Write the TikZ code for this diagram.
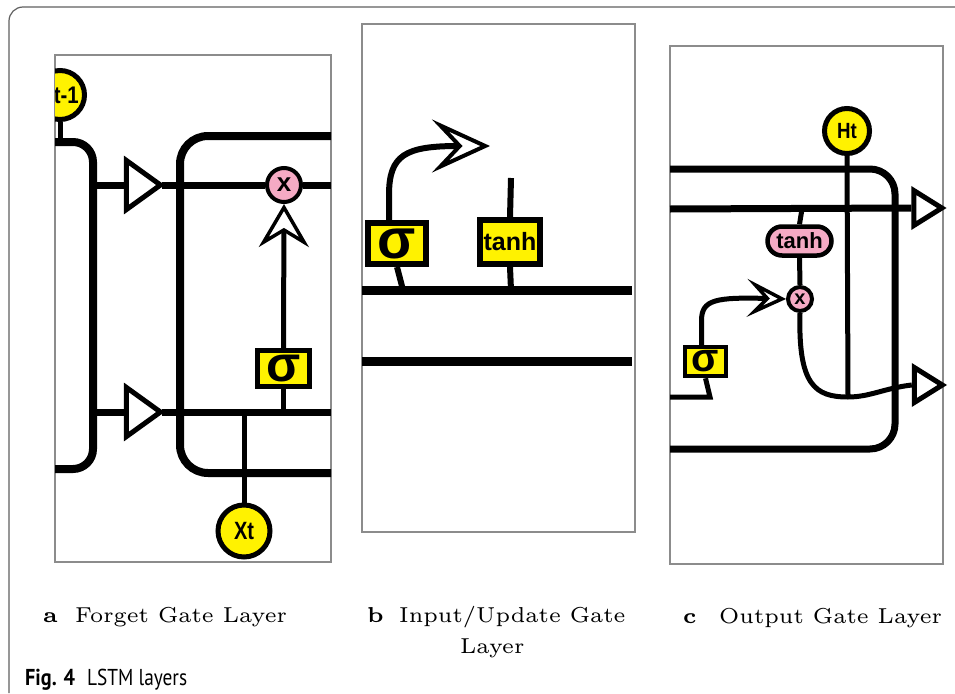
\documentclass[tikz,border=0pt]{standalone}
\usepackage{fontspec}
\usepackage{tikz}
\usetikzlibrary{arrows.meta,shapes,calc}
\newfontfamily\lblfont{Liberation Sans}
\newfontfamily\figfont{PT Sans}
\definecolor{gateyellow}{RGB}{255,242,0}
\definecolor{gatepink}{RGB}{245,170,196}
\definecolor{panelgray}{RGB}{140,140,140}
\definecolor{framegray}{RGB}{95,95,95}
\newcommand{\condtext}[2]{\scalebox{#1}[1]{#2}}
\newcommand{\captxt}[1]{\scalebox{3.6}{\fontsize{6}{7}\selectfont #1}}
\tikzset{
	panel/.style={draw=panelgray,line width=1.5pt},
	cellline/.style={line width=8pt},
	thinline/.style={line width=5pt},
	yellowcirc/.style={circle,draw,line width=5pt,fill=gateyellow,inner sep=0pt},
	pinkcirc/.style={circle,draw,line width=4pt,fill=gatepink,inner sep=0pt},
	sigbox/.style={rectangle,draw,line width=5pt,fill=gateyellow,inner sep=0pt},
	gatetri/.style={isosceles triangle,isosceles triangle stretches,draw,line width=5pt,fill=white,inner sep=0pt},
	captext/.style={anchor=base west,inner sep=0pt},
}

\begin{document}
\begin{tikzpicture}[x=1pt,y=-1pt]
	\useasboundingbox (0,0) rectangle (955,693);
	\draw[framegray,line width=1.2pt,rounded corners=14pt] (9,693) -- (9,7) -- (955,7);
	
	% a: forget gate layer
	\draw[panel] (55,55) rectangle (331,562);
	\begin{scope}
	\clip (55,55) rectangle (331,562);
	\coordinate (a1) at (55,142);
	\coordinate (a2) at (93,142);
	\coordinate (a3) at (93,469);
	\coordinate (a4) at (55,469);
	\coordinate (a5) at (331,136);
	\coordinate (a6) at (180,136);
	\coordinate (a7) at (180,473);
	\coordinate (a8) at (331,473);
	\coordinate (a9) at (93,185);
	\coordinate (a10) at (331,185);
	\coordinate (a11) at (93,412);
	\coordinate (a12) at (331,412);
	\node[yellowcirc,minimum size=49pt,font=\lblfont\bfseries\fontsize{24}{24}\selectfont] (hprev) at (60,95) {\condtext{0.85}{ht-1}};
	\node[pinkcirc,minimum size=34pt,font=\lblfont\bfseries\fontsize{26}{26}\selectfont] (mula) at (284,185) {x};
	\node[sigbox,minimum width=52pt,minimum height=36pt,font=\lblfont\bfseries\fontsize{50}{50}\selectfont] (siga) at (283.5,368.5) {σ};
	\node[yellowcirc,minimum size=52pt,font=\lblfont\bfseries\fontsize{25}{25}\selectfont] (xa) at (244,531) {\condtext{0.8}{Xt}};
	\node[gatetri,minimum height=34pt,minimum width=49pt] (tria) at (139,185) {};
	\node[gatetri,minimum height=34pt,minimum width=49pt] (trib) at (139,412) {};
	\draw[cellline,rounded corners=20pt] (a1) -- (a2) -- (a3) -- (a4);
	\draw[cellline,rounded corners=28pt] (a5) -- (a6) -- (a7) -- (a8);
	\draw[thinline] (hprev.south) -- (hprev.south |- a1);
	\draw[line width=7pt] (a9) -- (tria.west);
	\draw[line width=7pt] ([xshift=-5pt]tria.apex) -- (mula);
	\draw[line width=7pt] (mula) -- (a10);
	\draw[line width=7pt] (a11) -- (trib.west);
	\draw[line width=7pt] ([xshift=-5pt]trib.apex) -- (a12);
	\draw[thinline] (siga.south) -- (siga.south |- a12);
	\draw[thinline,-{Stealth[open,fill=white,line width=3.5pt,length=43pt,width=50pt,inset=15pt]}] (siga.north) -- (mula.south);
	\draw[thinline] (xa.north) -- (xa.north |- a12);
	\end{scope}
	
	% b: input/update gate layer
	\draw[panel] (362,24) rectangle (635,532);
	\coordinate (b1) at (362,290);
	\coordinate (b2) at (632,290);
	\coordinate (b3) at (362,361);
	\coordinate (b4) at (632,361);
	\coordinate (b5) at (403,290);
	\coordinate (b6) at (511,178);
	\coordinate (b7) at (511,290);
	\coordinate (b8) at (490,146);
	\node[sigbox,line width=6pt,minimum width=58pt,minimum height=41pt,font=\lblfont\bfseries\fontsize{56}{56}\selectfont] (sigb) at (397,243.5) {σ};
	\node[sigbox,line width=6pt,minimum width=60pt,minimum height=44pt,font=\lblfont\bfseries\fontsize{25}{25}\selectfont] (tanb) at (510,242) {tanh};
	\draw[line width=9pt] (b1) -- (b2);
	\draw[line width=9pt] (b3) -- (b4);
	\draw[line width=6pt] (sigb.south) -- (b5);
	\draw[line width=6pt] (tanb.north) -- (b6);
	\draw[line width=6pt] (tanb.south) -- (b7);
	\draw[line width=6pt,-{Stealth[open,fill=white,line width=4pt,length=58pt,width=53pt,inset=25pt]}] ([xshift=-8pt]sigb.north) -- ++(0,-25) .. controls (389,155) and (405,146) .. (b8);
	
	% c: output gate layer
	\draw[panel] (670,46) rectangle (943,564);
	\coordinate (c1) at (670,169);
	\coordinate (c2) at (895,169);
	\coordinate (c3) at (895,449);
	\coordinate (c4) at (670,449);
	\coordinate (c5) at (670,209);
	\coordinate (c6) at (802,209);
	\coordinate (c7) at (848,397);
	\coordinate (c8) at (710,397);
	\coordinate (c9) at (670,397);
	\node[yellowcirc,minimum size=45pt,font=\lblfont\bfseries\fontsize{22}{22}\selectfont] (ht) at (847,131) {\condtext{0.85}{Ht}};
	\node[rounded rectangle,draw,line width=4.5pt,fill=gatepink,inner sep=0pt,minimum width=64pt,minimum height=29pt,font=\lblfont\bfseries\fontsize{22}{22}\selectfont] (tanc) at (799.5,241) {tanh};
	\node[pinkcirc,minimum size=24pt,font=\lblfont\bfseries\fontsize{20}{20}\selectfont] (mulc) at (800,299) {x};
	\node[sigbox,line width=4.5pt,minimum width=41pt,minimum height=29pt,font=\lblfont\bfseries\fontsize{40}{40}\selectfont] (sigc) at (705.5,361.5) {σ};
	\node[gatetri,minimum height=28pt,minimum width=35pt] (tric) at (923.5,208) {};
	\node[gatetri,minimum height=28pt,minimum width=35pt] (trid) at (924,385) {};
	\draw[line width=7pt,rounded corners=25pt] (c1) -- (c2) -- (c3) -- (c4);
	\draw[line width=7pt] (c5) -- (tric.west);
	\draw[thinline] (ht.south) -- (c7);
	\draw[thinline] (tanc.north) -- (c6);
	\draw[thinline] (tanc.south) -- (mulc.north);
	\draw[thinline] (mulc.south) .. controls (798,385) and (815,397) .. (c7) .. controls (870,397) and (885,388) .. (trid.west);
	\draw[thinline] (sigc.south) -- (c8) -- (c9);
	\draw[thinline,-{Stealth[open,fill=white,line width=3.5pt,length=39pt,width=38pt,inset=18pt]}] ([xshift=-4pt]sigc.north) -- ++(0,-25) .. controls (702,300) and (715,297) .. (mulc.west);
	
	% captions
	\node[captext] (capa) at (43,622) {\captxt{\bfseries a}};
	\node[captext] (capatext) at (75,622) {\captxt{Forget Gate Layer}};
	\node[captext] (capb) at (367,622) {\captxt{\bfseries b}};
	\node[captext] (capbtext) at (399,622) {\captxt{Input/Update Gate}};
	\node[captext] (capbtext2) at (460,653) {\captxt{Layer}};
	\node[captext] (capc) at (683,623) {\captxt{\bfseries c}};
	\node[captext] (capctext) at (719,623) {\captxt{Output Gate Layer}};
	\node[anchor=base west,inner sep=0pt,font=\figfont\bfseries\fontsize{23}{23}\selectfont] (fig) at (25,685) {\condtext{0.88}{Fig. 4}};
	\node[anchor=base west,inner sep=0pt,font=\figfont\fontsize{23}{23}\selectfont] (figtext) at (87,685) {\condtext{0.84}{LSTM layers}};
\end{tikzpicture}
\end{document}
